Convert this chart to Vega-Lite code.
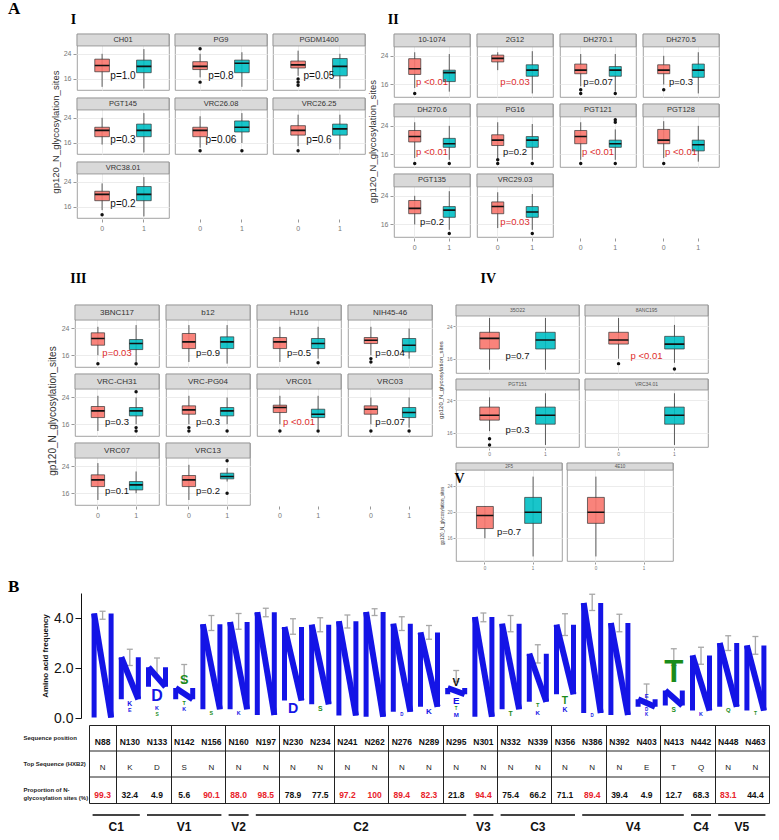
{
"$schema":"https://vega.github.io/schema/vega-lite/v6.json",
"background":"white",
"padding":{"left":0,"top":0,"right":0,"bottom":0},
"title":{"text":"A","anchor":"start","dx":8,"font":"Liberation Serif","fontSize":17,"fontWeight":"bold","offset":-5},
"resolve":{"scale":{"color":"independent","size":"independent"}},
"datasets":{
"pI":[
{"ab":"CH01","k":"b","g":"0","lo":13.5,"q1":18.3,"md":20.3,"q3":22.3,"hi":24},
{"ab":"CH01","k":"b","g":"1","lo":13,"q1":18,"md":20,"q3":22,"hi":25.5},
{"ab":"CH01","k":"p","p":"p=1.0","pv":1},
{"ab":"PG9","k":"b","g":"0","lo":16.5,"q1":19,"md":20,"q3":21.5,"hi":24},
{"ab":"PG9","k":"o","g":"0","v":25.6},
{"ab":"PG9","k":"o","g":"0","v":15},
{"ab":"PG9","k":"b","g":"1","lo":13.5,"q1":18,"md":21,"q3":22,"hi":24.5},
{"ab":"PG9","k":"p","p":"p=0.8","pv":0.8},
{"ab":"PGDM1400","k":"b","g":"0","lo":17,"q1":19.5,"md":20.5,"q3":21.7,"hi":25},
{"ab":"PGDM1400","k":"o","g":"0","v":16},
{"ab":"PGDM1400","k":"o","g":"0","v":15},
{"ab":"PGDM1400","k":"o","g":"0","v":14},
{"ab":"PGDM1400","k":"b","g":"1","lo":13,"q1":17,"md":20,"q3":22.5,"hi":24},
{"ab":"PGDM1400","k":"p","p":"p=0.05","pv":0.05},
{"ab":"PGT145","k":"b","g":"0","lo":15.5,"q1":18,"md":20,"q3":21,"hi":24},
{"ab":"PGT145","k":"b","g":"1","lo":13,"q1":18,"md":20,"q3":22,"hi":25.5},
{"ab":"PGT145","k":"p","p":"p=0.3","pv":0.3},
{"ab":"VRC26.08","k":"b","g":"0","lo":14.5,"q1":18,"md":20,"q3":21,"hi":24.5},
{"ab":"VRC26.08","k":"o","g":"0","v":13.5},
{"ab":"VRC26.08","k":"b","g":"1","lo":16,"q1":19.5,"md":21,"q3":23,"hi":25.5},
{"ab":"VRC26.08","k":"o","g":"1","v":13.5},
{"ab":"VRC26.08","k":"p","p":"p=0.06","pv":0.06},
{"ab":"VRC26.25","k":"b","g":"0","lo":15,"q1":18.5,"md":20,"q3":21.5,"hi":25},
{"ab":"VRC26.25","k":"o","g":"0","v":13.5},
{"ab":"VRC26.25","k":"b","g":"1","lo":14,"q1":18.5,"md":20.5,"q3":22,"hi":25},
{"ab":"VRC26.25","k":"p","p":"p=0.6","pv":0.6},
{"ab":"VRC38.01","k":"b","g":"0","lo":15,"q1":18,"md":20,"q3":21,"hi":23.5},
{"ab":"VRC38.01","k":"o","g":"0","v":13.5},
{"ab":"VRC38.01","k":"b","g":"1","lo":13,"q1":18,"md":20,"q3":22.5,"hi":25.5},
{"ab":"VRC38.01","k":"p","p":"p=0.2","pv":0.2}
],
"pII":[
{"ab":"10-1074","k":"b","g":"0","lo":15,"q1":18.8,"md":20.4,"q3":23.2,"hi":25},
{"ab":"10-1074","k":"o","g":"0","v":13.5},
{"ab":"10-1074","k":"b","g":"1","lo":14,"q1":16.8,"md":19.3,"q3":20,"hi":24.5},
{"ab":"10-1074","k":"p","p":"p <0.01","pv":0.005},
{"ab":"2G12","k":"b","g":"0","lo":20,"q1":22.3,"md":23.3,"q3":24.2,"hi":25},
{"ab":"2G12","k":"b","g":"1","lo":13.5,"q1":18.3,"md":20,"q3":21.5,"hi":25.3},
{"ab":"2G12","k":"p","p":"p=0.03","pv":0.03},
{"ab":"DH270.1","k":"b","g":"0","lo":15.5,"q1":19,"md":20,"q3":21.7,"hi":24.5},
{"ab":"DH270.1","k":"o","g":"0","v":14.5},
{"ab":"DH270.1","k":"o","g":"0","v":13.5},
{"ab":"DH270.1","k":"b","g":"1","lo":14,"q1":18.3,"md":20,"q3":21,"hi":24.5},
{"ab":"DH270.1","k":"o","g":"1","v":13.5},
{"ab":"DH270.1","k":"p","p":"p=0.07","pv":0.07},
{"ab":"DH270.5","k":"b","g":"0","lo":16,"q1":19,"md":20,"q3":21.5,"hi":24},
{"ab":"DH270.5","k":"o","g":"0","v":14.5},
{"ab":"DH270.5","k":"b","g":"1","lo":13.5,"q1":18,"md":20,"q3":21.7,"hi":25},
{"ab":"DH270.5","k":"p","p":"p=0.3","pv":0.3},
{"ab":"DH270.6","k":"b","g":"0","lo":15,"q1":19.5,"md":21,"q3":22.7,"hi":25},
{"ab":"DH270.6","k":"o","g":"0","v":13.5},
{"ab":"DH270.6","k":"b","g":"1","lo":14.5,"q1":18,"md":19,"q3":20.5,"hi":24},
{"ab":"DH270.6","k":"o","g":"1","v":13.5},
{"ab":"DH270.6","k":"p","p":"p <0.01","pv":0.005},
{"ab":"PG16","k":"b","g":"0","lo":15,"q1":18.5,"md":20,"q3":21.5,"hi":25},
{"ab":"PG16","k":"o","g":"0","v":14.5},
{"ab":"PG16","k":"o","g":"0","v":13.5},
{"ab":"PG16","k":"b","g":"1","lo":14.5,"q1":18,"md":20,"q3":21,"hi":24.5},
{"ab":"PG16","k":"o","g":"1","v":13.5},
{"ab":"PG16","k":"p","p":"p=0.2","pv":0.2},
{"ab":"PGT121","k":"b","g":"0","lo":14.5,"q1":19,"md":21,"q3":22.7,"hi":25},
{"ab":"PGT121","k":"o","g":"0","v":13.5},
{"ab":"PGT121","k":"b","g":"1","lo":14.5,"q1":18,"md":19,"q3":20,"hi":23},
{"ab":"PGT121","k":"o","g":"1","v":25.7},
{"ab":"PGT121","k":"o","g":"1","v":25},
{"ab":"PGT121","k":"o","g":"1","v":13.5},
{"ab":"PGT121","k":"p","p":"p <0.01","pv":0.005},
{"ab":"PGT128","k":"b","g":"0","lo":15,"q1":19,"md":20,"q3":23,"hi":25.3},
{"ab":"PGT128","k":"o","g":"0","v":13.5},
{"ab":"PGT128","k":"b","g":"1","lo":14,"q1":17,"md":18.7,"q3":20,"hi":24},
{"ab":"PGT128","k":"p","p":"p <0.01","pv":0.005},
{"ab":"PGT135","k":"b","g":"0","lo":16,"q1":19,"md":20.5,"q3":22.7,"hi":24},
{"ab":"PGT135","k":"b","g":"1","lo":14.5,"q1":18,"md":20,"q3":21,"hi":25.3},
{"ab":"PGT135","k":"o","g":"1","v":13.5},
{"ab":"PGT135","k":"p","p":"p=0.2","pv":0.2},
{"ab":"VRC29.03","k":"b","g":"0","lo":15,"q1":19,"md":21,"q3":22.3,"hi":25},
{"ab":"VRC29.03","k":"b","g":"1","lo":14.5,"q1":18,"md":19.5,"q3":21,"hi":24.5},
{"ab":"VRC29.03","k":"o","g":"1","v":13.5},
{"ab":"VRC29.03","k":"p","p":"p=0.03","pv":0.03}
],
"pIII":[
{"ab":"3BNC117","k":"b","g":"0","lo":16,"q1":19,"md":21,"q3":22.7,"hi":24.5},
{"ab":"3BNC117","k":"o","g":"0","v":13.5},
{"ab":"3BNC117","k":"b","g":"1","lo":14,"q1":17.7,"md":19.5,"q3":20.7,"hi":25},
{"ab":"3BNC117","k":"o","g":"1","v":13.5},
{"ab":"3BNC117","k":"p","p":"p=0.03","pv":0.03},
{"ab":"b12","k":"b","g":"0","lo":14,"q1":18,"md":20,"q3":22.5,"hi":25},
{"ab":"b12","k":"b","g":"1","lo":13.5,"q1":18,"md":20,"q3":21.5,"hi":25},
{"ab":"b12","k":"p","p":"p=0.9","pv":0.9},
{"ab":"HJ16","k":"b","g":"0","lo":14,"q1":18,"md":20,"q3":21.3,"hi":24.5},
{"ab":"HJ16","k":"b","g":"1","lo":15,"q1":18,"md":19.5,"q3":21,"hi":24.5},
{"ab":"HJ16","k":"o","g":"1","v":13.8},
{"ab":"HJ16","k":"p","p":"p=0.5","pv":0.5},
{"ab":"NIH45-46","k":"b","g":"0","lo":16,"q1":19.5,"md":20.5,"q3":21.3,"hi":24.5},
{"ab":"NIH45-46","k":"o","g":"0","v":15},
{"ab":"NIH45-46","k":"o","g":"0","v":14},
{"ab":"NIH45-46","k":"b","g":"1","lo":15,"q1":17,"md":19,"q3":21,"hi":24},
{"ab":"NIH45-46","k":"p","p":"p=0.04","pv":0.04},
{"ab":"VRC-CH31","k":"b","g":"0","lo":14,"q1":18,"md":20,"q3":21.3,"hi":24.5},
{"ab":"VRC-CH31","k":"b","g":"1","lo":16,"q1":18.5,"md":20,"q3":21,"hi":24},
{"ab":"VRC-CH31","k":"o","g":"1","v":25.7},
{"ab":"VRC-CH31","k":"o","g":"1","v":15},
{"ab":"VRC-CH31","k":"o","g":"1","v":14},
{"ab":"VRC-CH31","k":"p","p":"p=0.3","pv":0.3},
{"ab":"VRC-PG04","k":"b","g":"0","lo":16,"q1":19,"md":20.3,"q3":21.5,"hi":24.5},
{"ab":"VRC-PG04","k":"o","g":"0","v":15},
{"ab":"VRC-PG04","k":"o","g":"0","v":14},
{"ab":"VRC-PG04","k":"b","g":"1","lo":16,"q1":18.5,"md":20,"q3":21,"hi":24},
{"ab":"VRC-PG04","k":"o","g":"1","v":14},
{"ab":"VRC-PG04","k":"p","p":"p=0.3","pv":0.3},
{"ab":"VRC01","k":"b","g":"0","lo":16,"q1":19.5,"md":21,"q3":21.7,"hi":24.5},
{"ab":"VRC01","k":"o","g":"0","v":14},
{"ab":"VRC01","k":"b","g":"1","lo":14.5,"q1":18,"md":19,"q3":20.5,"hi":24.5},
{"ab":"VRC01","k":"o","g":"1","v":14},
{"ab":"VRC01","k":"p","p":"p <0.01","pv":0.005},
{"ab":"VRC03","k":"b","g":"0","lo":16,"q1":19,"md":20.5,"q3":21.5,"hi":24},
{"ab":"VRC03","k":"o","g":"0","v":14},
{"ab":"VRC03","k":"b","g":"1","lo":15,"q1":18,"md":19.5,"q3":21,"hi":24},
{"ab":"VRC03","k":"o","g":"1","v":14},
{"ab":"VRC03","k":"p","p":"p=0.07","pv":0.07},
{"ab":"VRC07","k":"b","g":"0","lo":14,"q1":18,"md":20,"q3":21.5,"hi":25},
{"ab":"VRC07","k":"b","g":"1","lo":16,"q1":17,"md":18.5,"q3":19.5,"hi":22.5},
{"ab":"VRC07","k":"p","p":"p=0.1","pv":0.1},
{"ab":"VRC13","k":"b","g":"0","lo":14,"q1":18,"md":20,"q3":21.3,"hi":24.5},
{"ab":"VRC13","k":"b","g":"1","lo":19.5,"q1":20.3,"md":21,"q3":22,"hi":23.5},
{"ab":"VRC13","k":"o","g":"1","v":25.7},
{"ab":"VRC13","k":"o","g":"1","v":16},
{"ab":"VRC13","k":"p","p":"p=0.2","pv":0.2}
],
"pIV":[
{"ab":"35O22","k":"b","g":"0","lo":13.3,"q1":18.4,"md":21,"q3":22.5,"hi":26},
{"ab":"35O22","k":"b","g":"1","lo":13.3,"q1":18.4,"md":20.6,"q3":22.5,"hi":26},
{"ab":"35O22","k":"p","p":"p=0.7","pv":0.7},
{"ab":"8ANC195","k":"b","g":"0","lo":16,"q1":19.6,"md":20.6,"q3":22.5,"hi":26},
{"ab":"8ANC195","k":"o","g":"0","v":14.8},
{"ab":"8ANC195","k":"b","g":"1","lo":15,"q1":18.4,"md":19.6,"q3":21.5,"hi":24.3},
{"ab":"8ANC195","k":"o","g":"1","v":13.5},
{"ab":"8ANC195","k":"p","p":"p <0.01","pv":0.005},
{"ab":"PGT151","k":"b","g":"0","lo":16.4,"q1":19.1,"md":20.3,"q3":22.3,"hi":24.7},
{"ab":"PGT151","k":"o","g":"0","v":14.5},
{"ab":"PGT151","k":"o","g":"0","v":13},
{"ab":"PGT151","k":"b","g":"1","lo":13,"q1":18.1,"md":20.3,"q3":22.3,"hi":25.7},
{"ab":"PGT151","k":"p","p":"p=0.3","pv":0.3},
{"ab":"VRC34.01","k":"b","g":"1","lo":13,"q1":18.1,"md":20.3,"q3":22.3,"hi":25.7}
],
"pV":[
{"ab":"2F5","k":"b","g":"0","lo":16,"q1":17.5,"md":19.5,"q3":20.9,"hi":20.9},
{"ab":"2F5","k":"b","g":"1","lo":13.2,"q1":18.3,"md":20,"q3":22.3,"hi":25.5},
{"ab":"2F5","k":"p","p":"p=0.7","pv":0.7},
{"ab":"4E10","k":"b","g":"0","lo":13.2,"q1":18.3,"md":20,"q3":22.3,"hi":25.5}
],
"cols":[
{"idx":1,"pos":"N88","top":"N","prop":"99.3","region":"C1","elo":3.95,"ehi":4.27},
{"idx":2,"pos":"N130","top":"K","prop":"32.4","region":"C1","elo":2.1,"ehi":2.75},
{"idx":3,"pos":"N133","top":"D","prop":"4.9","region":"V1","elo":1.65,"ehi":2.4},
{"idx":4,"pos":"N142","top":"S","prop":"5.6","region":"V1","elo":1.4,"ehi":2.14},
{"idx":5,"pos":"N156","top":"N","prop":"90.1","region":"V1","elo":3.5,"ehi":4.1},
{"idx":6,"pos":"N160","top":"N","prop":"88.0","region":"V2","elo":3.55,"ehi":4.18},
{"idx":7,"pos":"N197","top":"N","prop":"98.5","region":"C2","elo":4.05,"ehi":4.39},
{"idx":8,"pos":"N230","top":"N","prop":"78.9","region":"C2","elo":3.35,"ehi":3.97},
{"idx":9,"pos":"N234","top":"N","prop":"77.5","region":"C2","elo":3.45,"ehi":4.01},
{"idx":10,"pos":"N241","top":"N","prop":"97.2","region":"C2","elo":3.6,"ehi":4.12},
{"idx":11,"pos":"N262","top":"N","prop":"100","region":"C2","elo":4.1,"ehi":4.37},
{"idx":12,"pos":"N276","top":"N","prop":"89.4","region":"C2","elo":3.5,"ehi":4.05},
{"idx":13,"pos":"N289","top":"N","prop":"82.3","region":"C2","elo":3.15,"ehi":3.7},
{"idx":14,"pos":"N295","top":"N","prop":"21.8","region":"C2","elo":1.45,"ehi":1.9},
{"idx":15,"pos":"N301","top":"N","prop":"94.4","region":"V3","elo":3.85,"ehi":4.2},
{"idx":16,"pos":"N332","top":"N","prop":"75.4","region":"C3","elo":3.45,"ehi":4.1},
{"idx":17,"pos":"N339","top":"N","prop":"66.2","region":"C3","elo":2.2,"ehi":2.93},
{"idx":18,"pos":"N356","top":"N","prop":"71.1","region":"C3","elo":3.3,"ehi":4.17},
{"idx":19,"pos":"N386","top":"N","prop":"89.4","region":"V4","elo":4.3,"ehi":4.95},
{"idx":20,"pos":"N392","top":"N","prop":"39.4","region":"V4","elo":3.45,"ehi":4.15},
{"idx":21,"pos":"N403","top":"E","prop":"4.9","region":"V4","elo":0.65,"ehi":1.36},
{"idx":22,"pos":"N413","top":"T","prop":"12.7","region":"V4","elo":2.1,"ehi":2.77},
{"idx":23,"pos":"N442","top":"Q","prop":"68.3","region":"C4","elo":2.15,"ehi":2.83},
{"idx":24,"pos":"N448","top":"N","prop":"83.1","region":"V5","elo":2.7,"ehi":3.29},
{"idx":25,"pos":"N463","top":"N","prop":"44.4","region":"V5","elo":2.55,"ehi":3.26}
],
"logoN":[
{"idx":1,"lo":0.02,"hi":4.18},{"idx":2,"lo":0.75,"hi":2.43},{"idx":3,"lo":1.25,"hi":2.03},{"idx":4,"lo":0.75,"hi":1.2},
{"idx":5,"lo":0.35,"hi":3.75},{"idx":6,"lo":0.35,"hi":3.84},{"idx":7,"lo":0.12,"hi":4.23},{"idx":8,"lo":0.7,"hi":3.64},
{"idx":9,"lo":0.55,"hi":3.73},{"idx":10,"lo":0.1,"hi":3.87},{"idx":11,"lo":0.05,"hi":4.24},{"idx":12,"lo":0.25,"hi":3.77},
{"idx":13,"lo":0.45,"hi":3.42},{"idx":14,"lo":0.95,"hi":1.2},{"idx":15,"lo":0.05,"hi":4.04},{"idx":16,"lo":0.35,"hi":3.77},
{"idx":17,"lo":0.65,"hi":2.57},{"idx":18,"lo":0.95,"hi":3.73},{"idx":19,"lo":0.2,"hi":4.6},{"idx":20,"lo":0.12,"hi":3.8},
{"idx":21,"lo":0.45,"hi":0.75},{"idx":22,"lo":0.5,"hi":1.1},{"idx":23,"lo":0.3,"hi":2.5},{"idx":24,"lo":0.45,"hi":3.0},
{"idx":25,"lo":0.3,"hi":2.9}
],
"logoT":[
{"idx":2,"letter":"K","lo":0.45,"h":0.28},{"idx":2,"letter":"E","lo":0.2,"h":0.22},
{"idx":3,"letter":"D","lo":0.55,"h":0.65},{"idx":3,"letter":"K","lo":0.3,"h":0.22},{"idx":3,"letter":"S","lo":0.05,"h":0.2},
{"idx":4,"letter":"S","lo":1.25,"h":0.52},{"idx":4,"letter":"T","lo":0.5,"h":0.22},{"idx":4,"letter":"K","lo":0.25,"h":0.22},
{"idx":5,"letter":"S","lo":0.1,"h":0.22},{"idx":6,"letter":"K","lo":0.1,"h":0.22},
{"idx":8,"letter":"D","lo":0.1,"h":0.58},{"idx":9,"letter":"S","lo":0.25,"h":0.28},
{"idx":12,"letter":"D","lo":0.05,"h":0.18},{"idx":13,"letter":"K","lo":0.1,"h":0.33},
{"idx":14,"letter":"V","lo":1.22,"h":0.44},{"idx":14,"letter":"E","lo":0.5,"h":0.4},{"idx":14,"letter":"T","lo":0.3,"h":0.18},{"idx":14,"letter":"M","lo":0.02,"h":0.25},
{"idx":16,"letter":"T","lo":0.05,"h":0.28},
{"idx":17,"letter":"T","lo":0.4,"h":0.23},{"idx":17,"letter":"K","lo":0.1,"h":0.25},
{"idx":18,"letter":"T","lo":0.5,"h":0.42},{"idx":18,"letter":"K","lo":0.2,"h":0.28},
{"idx":19,"letter":"D","lo":0.02,"h":0.18},
{"idx":21,"letter":"E","lo":0.75,"h":0.24},{"idx":21,"letter":"D","lo":0.25,"h":0.18},{"idx":21,"letter":"K","lo":0.05,"h":0.18},
{"idx":22,"letter":"T","lo":1.15,"h":1.28},{"idx":22,"letter":"S","lo":0.2,"h":0.27},
{"idx":23,"letter":"K","lo":0.05,"h":0.22},{"idx":24,"letter":"Q","lo":0.2,"h":0.24},{"idx":25,"letter":"T","lo":0.1,"h":0.2}
]
},
"vconcat":[
{"hconcat":[
 {"width":50,"height":1,"data":{"values":[]},"mark":"point","view":{"stroke":null}},
 {"title":{"text":"I","anchor":"start","dx":20,"font":"Liberation Serif","fontSize":14,"fontWeight":"bold","offset":6},
  "vconcat":[{
  "data":{"name":"pI"},
  "title":{"text":"gp120_N_glycosylation_sites","orient":"left","anchor":"middle","fontSize":9.5,"fontWeight":"normal","color":"#333","offset":3},
  "facet":{"field":"ab","type":"nominal","sort":["CH01","PG9","PGDM1400","PGT145","VRC26.08","VRC26.25","VRC38.01"],"header":{"title":null,"labels":false,"labelExpr":"''","labelFontSize":0,"labelPadding":0}},
  "columns":3,"spacing":{"row":6,"column":4},
  "spec":{"width":92,"height":56,"layer":[
   {"transform":[{"filter":"datum.k==='b'"}],"mark":{"type":"rule","color":"#333","strokeWidth":0.8},"encoding":{"x":{"field":"g","type":"nominal","scale":{"domain":["0","1"],"paddingInner":0.65,"paddingOuter":0.425},"axis":{"title":null,"labelAngle":0,"labelFontSize":7,"labelColor":"#777","tickColor":"#999","tickSize":3,"domain":false,"grid":true,"gridColor":"#ececec","labelPadding":2}},"y":{"field":"lo","type":"quantitative","scale":{"domain":[12.5,30.3],"nice":false,"zero":false},"axis":{"title":null,"values":[16,20,24],"labelFontSize":7,"labelColor":"#777","tickColor":"#999","tickSize":3,"domain":false,"grid":true,"gridColor":"#ececec","labelPadding":2}},"y2":{"field":"hi"}}},
   {"transform":[{"filter":"datum.k==='b'"}],"mark":{"type":"bar","stroke":"#333","strokeWidth":0.7,"fillOpacity":0.9},"encoding":{"x":{"field":"g","type":"nominal"},"y":{"field":"q1","type":"quantitative"},"y2":{"field":"q3"},"color":{"field":"g","type":"nominal","scale":{"domain":["0","1"],"range":["#F8766D","#00BFC4"]},"legend":null}}},
   {"transform":[{"filter":"datum.k==='b'"}],"mark":{"type":"bar","stroke":"#111","strokeWidth":1.6},"encoding":{"x":{"field":"g","type":"nominal"},"y":{"field":"md","type":"quantitative"},"y2":{"field":"md"}}},
   {"transform":[{"filter":"datum.k==='o'"}],"mark":{"type":"circle","color":"#111","size":12,"opacity":1},"encoding":{"x":{"field":"g","type":"nominal"},"y":{"field":"v","type":"quantitative"}}},
   {"transform":[{"filter":"datum.k==='p'"}],"mark":{"type":"text","fontSize":10},"encoding":{"y":{"datum":16.8},"text":{"field":"p"},"color":{"condition":{"test":"datum.pv<=0.03","value":"#dd2c2c"},"value":"#111"}}},
   {"transform":[{"aggregate":[{"op":"count","as":"n"}],"groupby":["ab"]}],"mark":{"type":"rect","fill":"#d9d9d9","stroke":"#8c8c8c","strokeWidth":0.8},"encoding":{"x":{"value":0},"x2":{"value":"width"},"y":{"datum":26.5},"y2":{"datum":30.3}}},
   {"transform":[{"aggregate":[{"op":"count","as":"n"}],"groupby":["ab"]}],"mark":{"type":"text","fontSize":7.5,"color":"#333"},"encoding":{"y":{"datum":28.4},"text":{"field":"ab"}}}
  ]}
 }]},
 {"width":1,"height":1,"data":{"values":[]},"mark":"point","view":{"stroke":null}},
 {"title":{"text":"II","anchor":"start","dx":20,"font":"Liberation Serif","fontSize":14,"fontWeight":"bold","offset":6},
  "vconcat":[{
  "data":{"name":"pII"},
  "title":{"text":"gp120_N_glycosylation_sites","orient":"left","anchor":"middle","fontSize":9.5,"fontWeight":"normal","color":"#333","offset":3},
  "facet":{"field":"ab","type":"nominal","sort":["10-1074","2G12","DH270.1","DH270.5","DH270.6","PG16","PGT121","PGT128","PGT135","VRC29.03"],"header":{"title":null,"labels":false,"labelExpr":"''","labelFontSize":0,"labelPadding":0}},
  "columns":4,"spacing":{"row":5,"column":5},
  "spec":{"width":76,"height":63,"layer":[
   {"transform":[{"filter":"datum.k==='b'"}],"mark":{"type":"rule","color":"#333","strokeWidth":0.8},"encoding":{"x":{"field":"g","type":"nominal","scale":{"domain":["0","1"],"paddingInner":0.65,"paddingOuter":0.425},"axis":{"title":null,"labelAngle":0,"labelFontSize":7,"labelColor":"#777","tickColor":"#999","tickSize":3,"domain":false,"grid":true,"gridColor":"#ececec","labelPadding":2}},"y":{"field":"lo","type":"quantitative","scale":{"domain":[12.5,30.1],"nice":false,"zero":false},"axis":{"title":null,"values":[16,20,24],"labelFontSize":7,"labelColor":"#777","tickColor":"#999","tickSize":3,"domain":false,"grid":true,"gridColor":"#ececec","labelPadding":2}},"y2":{"field":"hi"}}},
   {"transform":[{"filter":"datum.k==='b'"}],"mark":{"type":"bar","stroke":"#333","strokeWidth":0.7,"fillOpacity":0.9},"encoding":{"x":{"field":"g","type":"nominal"},"y":{"field":"q1","type":"quantitative"},"y2":{"field":"q3"},"color":{"field":"g","type":"nominal","scale":{"domain":["0","1"],"range":["#F8766D","#00BFC4"]},"legend":null}}},
   {"transform":[{"filter":"datum.k==='b'"}],"mark":{"type":"bar","stroke":"#111","strokeWidth":1.6},"encoding":{"x":{"field":"g","type":"nominal"},"y":{"field":"md","type":"quantitative"},"y2":{"field":"md"}}},
   {"transform":[{"filter":"datum.k==='o'"}],"mark":{"type":"circle","color":"#111","size":12,"opacity":1},"encoding":{"x":{"field":"g","type":"nominal"},"y":{"field":"v","type":"quantitative"}}},
   {"transform":[{"filter":"datum.k==='p'"}],"mark":{"type":"text","fontSize":9.5},"encoding":{"y":{"datum":16.8},"text":{"field":"p"},"color":{"condition":{"test":"datum.pv<=0.03","value":"#dd2c2c"},"value":"#111"}}},
   {"transform":[{"aggregate":[{"op":"count","as":"n"}],"groupby":["ab"]}],"mark":{"type":"rect","fill":"#d9d9d9","stroke":"#8c8c8c","strokeWidth":0.8},"encoding":{"x":{"value":0},"x2":{"value":"width"},"y":{"datum":26.5},"y2":{"datum":30.1}}},
   {"transform":[{"aggregate":[{"op":"count","as":"n"}],"groupby":["ab"]}],"mark":{"type":"text","fontSize":7.5,"color":"#333"},"encoding":{"y":{"datum":28.3},"text":{"field":"ab"}}}
  ]}
 }]}
],"spacing":0},
{"width":1,"height":22,"data":{"values":[]},"mark":"point","view":{"stroke":null}},
{"hconcat":[
 {"width":48,"height":1,"data":{"values":[]},"mark":"point","view":{"stroke":null}},
 {"title":{"text":"III","anchor":"start","dx":22,"font":"Liberation Serif","fontSize":14,"fontWeight":"bold","offset":18},
  "vconcat":[{
  "data":{"name":"pIII"},
  "title":{"text":"gp120_N_glycosylation_sites","orient":"left","anchor":"middle","fontSize":10,"fontWeight":"normal","color":"#333","offset":3},
  "facet":{"field":"ab","type":"nominal","sort":["3BNC117","b12","HJ16","NIH45-46","VRC-CH31","VRC-PG04","VRC01","VRC03","VRC07","VRC13"],"header":{"title":null,"labels":false,"labelExpr":"''","labelFontSize":0,"labelPadding":0}},
  "columns":4,"spacing":{"row":5,"column":5},
  "spec":{"width":84,"height":62,"layer":[
   {"transform":[{"filter":"datum.k==='b'"}],"mark":{"type":"rule","color":"#333","strokeWidth":0.8},"encoding":{"x":{"field":"g","type":"nominal","scale":{"domain":["0","1"],"paddingInner":0.65,"paddingOuter":0.425},"axis":{"title":null,"labelAngle":0,"labelFontSize":7,"labelColor":"#777","tickColor":"#999","tickSize":3,"domain":false,"grid":true,"gridColor":"#ececec","labelPadding":2}},"y":{"field":"lo","type":"quantitative","scale":{"domain":[12.5,31],"nice":false,"zero":false},"axis":{"title":null,"values":[16,20,24],"labelFontSize":7,"labelColor":"#777","tickColor":"#999","tickSize":3,"domain":false,"grid":true,"gridColor":"#ececec","labelPadding":2}},"y2":{"field":"hi"}}},
   {"transform":[{"filter":"datum.k==='b'"}],"mark":{"type":"bar","stroke":"#333","strokeWidth":0.7,"fillOpacity":0.9},"encoding":{"x":{"field":"g","type":"nominal"},"y":{"field":"q1","type":"quantitative"},"y2":{"field":"q3"},"color":{"field":"g","type":"nominal","scale":{"domain":["0","1"],"range":["#F8766D","#00BFC4"]},"legend":null}}},
   {"transform":[{"filter":"datum.k==='b'"}],"mark":{"type":"bar","stroke":"#111","strokeWidth":1.6},"encoding":{"x":{"field":"g","type":"nominal"},"y":{"field":"md","type":"quantitative"},"y2":{"field":"md"}}},
   {"transform":[{"filter":"datum.k==='o'"}],"mark":{"type":"circle","color":"#111","size":12,"opacity":1},"encoding":{"x":{"field":"g","type":"nominal"},"y":{"field":"v","type":"quantitative"}}},
   {"transform":[{"filter":"datum.k==='p'"}],"mark":{"type":"text","fontSize":9.5},"encoding":{"y":{"datum":16.8},"text":{"field":"p"},"color":{"condition":{"test":"datum.pv<=0.03","value":"#dd2c2c"},"value":"#111"}}},
   {"transform":[{"aggregate":[{"op":"count","as":"n"}],"groupby":["ab"]}],"mark":{"type":"rect","fill":"#d9d9d9","stroke":"#8c8c8c","strokeWidth":0.8},"encoding":{"x":{"value":0},"x2":{"value":"width"},"y":{"datum":26.5},"y2":{"datum":31}}},
   {"transform":[{"aggregate":[{"op":"count","as":"n"}],"groupby":["ab"]}],"mark":{"type":"text","fontSize":8,"color":"#333"},"encoding":{"y":{"datum":28.75},"text":{"field":"ab"}}}
  ]}
 }]},
 {"width":5,"height":1,"data":{"values":[]},"mark":"point","view":{"stroke":null}},
 {"vconcat":[
  {"title":{"text":"IV","anchor":"start","dx":42,"font":"Liberation Serif","fontSize":14,"fontWeight":"bold","offset":18},
   "vconcat":[{
   "data":{"name":"pIV"},
   "title":{"text":"gp120_N_glycosylation_sites","orient":"left","anchor":"middle","fontSize":6,"fontWeight":"normal","color":"#333","offset":2},
   "facet":{"field":"ab","type":"nominal","sort":["35O22","8ANC195","PGT151","VRC34.01"],"header":{"title":null,"labels":false,"labelExpr":"''","labelFontSize":0,"labelPadding":0}},
   "columns":2,"spacing":{"row":4,"column":4},
   "spec":{"width":123,"height":68,"layer":[
    {"transform":[{"filter":"datum.k==='b'"}],"mark":{"type":"rule","color":"#333","strokeWidth":0.8},"encoding":{"x":{"field":"g","type":"nominal","scale":{"domain":["0","1"],"paddingInner":0.65,"paddingOuter":0.425},"axis":{"title":null,"labelAngle":0,"labelFontSize":5,"labelColor":"#777","tickColor":"#999","tickSize":2,"domain":false,"grid":true,"gridColor":"#ececec","labelPadding":1}},"y":{"field":"lo","type":"quantitative","scale":{"domain":[12.5,29.2],"nice":false,"zero":false},"axis":{"title":null,"values":[16,20,24],"labelFontSize":5,"labelColor":"#777","tickColor":"#999","tickSize":2,"domain":false,"grid":true,"gridColor":"#ececec","labelPadding":1}},"y2":{"field":"hi"}}},
    {"transform":[{"filter":"datum.k==='b'"}],"mark":{"type":"bar","stroke":"#333","strokeWidth":0.7,"fillOpacity":0.9},"encoding":{"x":{"field":"g","type":"nominal"},"y":{"field":"q1","type":"quantitative"},"y2":{"field":"q3"},"color":{"field":"g","type":"nominal","scale":{"domain":["0","1"],"range":["#F8766D","#00BFC4"]},"legend":null}}},
    {"transform":[{"filter":"datum.k==='b'"}],"mark":{"type":"bar","stroke":"#111","strokeWidth":1.6},"encoding":{"x":{"field":"g","type":"nominal"},"y":{"field":"md","type":"quantitative"},"y2":{"field":"md"}}},
    {"transform":[{"filter":"datum.k==='o'"}],"mark":{"type":"circle","color":"#111","size":12,"opacity":1},"encoding":{"x":{"field":"g","type":"nominal"},"y":{"field":"v","type":"quantitative"}}},
    {"transform":[{"filter":"datum.k==='p'"}],"mark":{"type":"text","fontSize":9.5},"encoding":{"y":{"datum":16.6},"text":{"field":"p"},"color":{"condition":{"test":"datum.pv<=0.03","value":"#dd2c2c"},"value":"#111"}}},
    {"transform":[{"aggregate":[{"op":"count","as":"n"}],"groupby":["ab"]}],"mark":{"type":"rect","fill":"#d9d9d9","stroke":"#8c8c8c","strokeWidth":0.8},"encoding":{"x":{"value":0},"x2":{"value":"width"},"y":{"datum":26.5},"y2":{"datum":29.2}}},
    {"transform":[{"aggregate":[{"op":"count","as":"n"}],"groupby":["ab"]}],"mark":{"type":"text","fontSize":5,"color":"#555"},"encoding":{"y":{"datum":27.85},"text":{"field":"ab"}}}
   ]}
  }]},
  {"title":{"text":"V","anchor":"start","dx":14,"dy":24,"font":"Liberation Serif","fontSize":14,"fontWeight":"bold","offset":0},
   "vconcat":[{
   "data":{"name":"pV"},
   "title":{"text":"gp120_N_glycosylation_sites","orient":"left","anchor":"middle","fontSize":4.5,"fontWeight":"normal","color":"#333","offset":2},
   "facet":{"field":"ab","type":"nominal","sort":["2F5","4E10"],"header":{"title":null,"labels":false,"labelExpr":"''","labelFontSize":0,"labelPadding":0}},
   "columns":2,"spacing":{"row":4,"column":3},
   "spec":{"width":106,"height":98,"layer":[
    {"transform":[{"filter":"datum.k==='b'"}],"mark":{"type":"rule","color":"#333","strokeWidth":0.8},"encoding":{"x":{"field":"g","type":"nominal","scale":{"domain":["0","1"],"paddingInner":0.65,"paddingOuter":0.425},"axis":{"title":null,"labelAngle":0,"labelFontSize":4.5,"labelColor":"#777","tickColor":"#999","tickSize":2,"domain":false,"grid":true,"gridColor":"#ececec","labelPadding":1}},"y":{"field":"lo","type":"quantitative","scale":{"domain":[12.5,27.6],"nice":false,"zero":false},"axis":{"title":null,"values":[16,20,24],"labelFontSize":4.5,"labelColor":"#777","tickColor":"#999","tickSize":2,"domain":false,"grid":true,"gridColor":"#ececec","labelPadding":1}},"y2":{"field":"hi"}}},
    {"transform":[{"filter":"datum.k==='b'"}],"mark":{"type":"bar","stroke":"#333","strokeWidth":0.7,"fillOpacity":0.9},"encoding":{"x":{"field":"g","type":"nominal"},"y":{"field":"q1","type":"quantitative"},"y2":{"field":"q3"},"color":{"field":"g","type":"nominal","scale":{"domain":["0","1"],"range":["#F8766D","#00BFC4"]},"legend":null}}},
    {"transform":[{"filter":"datum.k==='b'"}],"mark":{"type":"bar","stroke":"#111","strokeWidth":1.6},"encoding":{"x":{"field":"g","type":"nominal"},"y":{"field":"md","type":"quantitative"},"y2":{"field":"md"}}},
    {"transform":[{"filter":"datum.k==='p'"}],"mark":{"type":"text","fontSize":9.5},"encoding":{"y":{"datum":17},"text":{"field":"p"},"color":{"condition":{"test":"datum.pv<=0.03","value":"#dd2c2c"},"value":"#111"}}},
    {"transform":[{"aggregate":[{"op":"count","as":"n"}],"groupby":["ab"]}],"mark":{"type":"rect","fill":"#d9d9d9","stroke":"#8c8c8c","strokeWidth":0.8},"encoding":{"x":{"value":0},"x2":{"value":"width"},"y":{"datum":26.5},"y2":{"datum":27.6}}},
    {"transform":[{"aggregate":[{"op":"count","as":"n"}],"groupby":["ab"]}],"mark":{"type":"text","fontSize":4.5,"color":"#555"},"encoding":{"y":{"datum":27.05},"text":{"field":"ab"}}}
   ]}
  }]}
 ],"spacing":6}
],"spacing":0},
{"width":1,"height":8,"data":{"values":[]},"mark":"point","view":{"stroke":null}},
{"title":{"text":"B","anchor":"start","dx":8,"font":"Liberation Serif","fontSize":17,"fontWeight":"bold","offset":-3},
 "hconcat":[
 {"width":22,"height":1,"data":{"values":[]},"mark":"point","view":{"stroke":null}},
 {"vconcat":[
  {"width":680,"height":125,"view":{"stroke":null},
   "layer":[
    {"data":{"name":"cols"},"mark":{"type":"rule","color":"#a8a8a8","strokeWidth":1.3},"encoding":{"x":{"field":"idx","type":"quantitative","scale":{"domain":[0.5,25.5],"nice":false,"zero":false},"axis":null},"y":{"field":"elo","type":"quantitative","scale":{"domain":[0,5],"nice":false},"axis":{"title":"Amino acid frequency","titleFontSize":8,"titleFontWeight":"bold","titleColor":"#111","titlePadding":4,"values":[0,1,2,3,4],"format":".1f","labelFontSize":14,"labelColor":"#111","tickColor":"#111","domainColor":"#111","tickSize":6,"offset":8,"grid":false,"labelPadding":2}},"y2":{"field":"ehi"}}},
    {"data":{"name":"cols"},"mark":{"type":"rule","color":"#a8a8a8","strokeWidth":1.3,"xOffset":-3,"x2Offset":3},"encoding":{"x":{"field":"idx","type":"quantitative"},"x2":{"field":"idx"},"y":{"field":"ehi","type":"quantitative"}}},
    {"data":{"name":"cols"},"mark":{"type":"rule","color":"#a8a8a8","strokeWidth":1.3,"xOffset":-3,"x2Offset":3},"encoding":{"x":{"field":"idx","type":"quantitative"},"x2":{"field":"idx"},"y":{"field":"elo","type":"quantitative"}}},
    {"data":{"name":"logoN"},"mark":{"type":"rule","color":"#1414e6","strokeWidth":5,"xOffset":-8.5},"encoding":{"x":{"field":"idx","type":"quantitative"},"y":{"field":"lo","type":"quantitative"},"y2":{"field":"hi"}}},
    {"data":{"name":"logoN"},"mark":{"type":"rule","color":"#1414e6","strokeWidth":5,"xOffset":8.5},"encoding":{"x":{"field":"idx","type":"quantitative"},"y":{"field":"lo","type":"quantitative"},"y2":{"field":"hi"}}},
    {"data":{"name":"logoN"},"mark":{"type":"rule","color":"#1414e6","strokeWidth":6,"xOffset":-8.5,"x2Offset":8.5},"encoding":{"x":{"field":"idx","type":"quantitative"},"x2":{"field":"idx"},"y":{"field":"hi","type":"quantitative"},"y2":{"field":"lo"}}},
    {"data":{"name":"logoT"},"mark":{"type":"text","baseline":"bottom","fontWeight":"bold"},"encoding":{"x":{"field":"idx","type":"quantitative"},"y":{"field":"lo","type":"quantitative"},"text":{"field":"letter"},"size":{"field":"h","type":"quantitative","scale":{"domain":[0,1],"range":[0,24.5]},"legend":null},"color":{"field":"letter","type":"nominal","scale":{"domain":["N","D","K","E","M","T","S","Q","V"],"range":["#1414e6","#1414e6","#1414e6","#1414e6","#1414e6","#1a8c1a","#1a8c1a","#1a8c1a","#111111"]},"legend":null}}}
   ]},
  {"vconcat":[
   {"width":680,"height":78,"view":{"stroke":"#222","strokeWidth":1},
    "data":{"name":"cols"},
    "layer":[
     {"mark":{"type":"text","fontSize":8.5,"fontWeight":"bold","color":"#111","dy":4},"encoding":{"x":{"field":"idx","type":"quantitative","scale":{"domain":[0.5,25.5],"nice":false,"zero":false},"axis":{"title":null,"values":[1.5,2.5,3.5,4.5,5.5,6.5,7.5,8.5,9.5,10.5,11.5,12.5,13.5,14.5,15.5,16.5,17.5,18.5,19.5,20.5,21.5,22.5,23.5,24.5],"grid":true,"gridColor":"#222","gridOpacity":1,"labels":false,"ticks":false,"domain":false}},"y":{"datum":"r1","type":"nominal","scale":{"domain":["r1","r2","r3"],"paddingInner":0,"paddingOuter":0},"axis":{"title":null,"ticks":false,"tickSize":0,"domain":false,"grid":false,"labelAlign":"left","labelPadding":66,"labelFontSize":6,"labelFontWeight":"bold","labelColor":"#222","labelLineHeight":8,"labelExpr":"datum.value=='r1'?'Sequence position':datum.value=='r2'?'Top Sequence (HXB2)':['Proportion of N-','glycosylation sites (%)']"}},"text":{"field":"pos"}}},
     {"mark":{"type":"text","fontSize":8,"color":"#222","dy":4},"encoding":{"x":{"field":"idx","type":"quantitative"},"y":{"datum":"r2","type":"nominal"},"text":{"field":"top"}}},
     {"mark":{"type":"text","fontSize":8.5,"fontWeight":"bold","dy":5},"encoding":{"x":{"field":"idx","type":"quantitative"},"y":{"datum":"r3","type":"nominal"},"text":{"field":"prop"},"color":{"condition":{"test":"toNumber(datum.prop)>=80","value":"#e8222a"},"value":"#111"}}},
     {"data":{"values":[{}]},"mark":{"type":"rule","color":"#222","strokeWidth":1},"encoding":{"y":{"datum":"r2","type":"nominal","bandPosition":0}}},
     {"data":{"values":[{}]},"mark":{"type":"rule","color":"#222","strokeWidth":1},"encoding":{"y":{"datum":"r3","type":"nominal","bandPosition":0}}}
    ]},
   {"width":680,"height":36,"view":{"stroke":null},
    "data":{"name":"cols"},
    "transform":[{"aggregate":[{"op":"min","field":"idx","as":"s"},{"op":"max","field":"idx","as":"e"},{"op":"mean","field":"idx","as":"m"}],"groupby":["region"]}],
    "layer":[
     {"mark":{"type":"rule","strokeWidth":2,"color":"#444","xOffset":-10,"x2Offset":10},"encoding":{"x":{"field":"s","type":"quantitative","scale":{"domain":[0.5,25.5],"nice":false,"zero":false},"axis":null},"x2":{"field":"e"},"y":{"datum":"l","type":"nominal","scale":{"domain":["l","t"],"paddingInner":0,"paddingOuter":0.5},"axis":null}}},
     {"mark":{"type":"text","fontSize":12,"fontWeight":"bold","color":"#111"},"encoding":{"x":{"field":"m","type":"quantitative"},"y":{"datum":"t","type":"nominal"},"text":{"field":"region"}}}
    ]}
  ],"spacing":0,"bounds":"flush"}
 ],"spacing":7,"bounds":"flush"}
],"spacing":0}
],
"spacing":0,
"config":{
 "font":"Liberation Sans",
 "view":{"stroke":"#8c8c8c","strokeWidth":0.8},
 "headerFacet":{"labels":false,"title":null,"labelFontSize":0,"labelPadding":0},
 "header":{"labels":false,"labelFontSize":0,"labelPadding":0}
}
}
